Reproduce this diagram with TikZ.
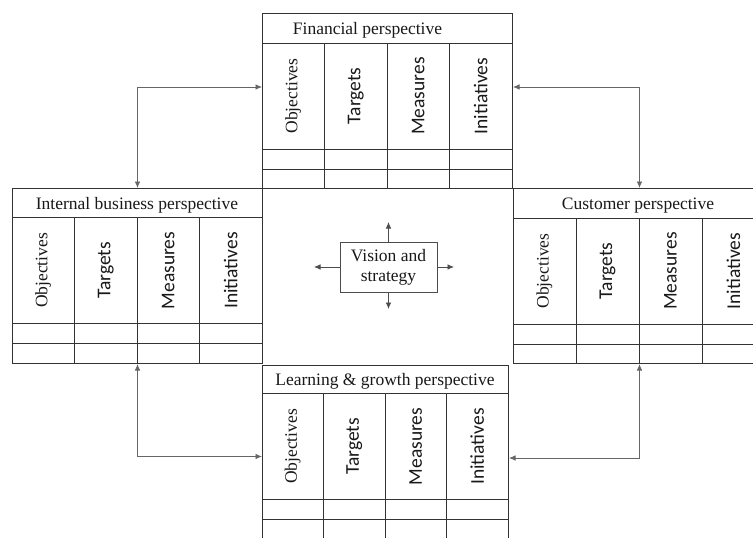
\documentclass[tikz,border=0pt]{standalone}
\usepackage{fontspec}
\setmainfont{Liberation Serif}
\newfontfamily\calibfont{Carlito}
\usetikzlibrary{arrows.meta}

\tikzset{
  panel/.style={draw=black!80, line width=1pt, inner sep=0pt, minimum height=175pt},
  grid/.style={draw=black!80, line width=1pt},
  title/.style={anchor=base, inner sep=0pt, text=black!90, font=\fontsize{17.5}{20}\selectfont},
  serifcol/.style={rotate=90, inner sep=0pt, text=black!90, font=\fontsize{17.5}{20}\selectfont},
  sanscol/.style={rotate=90, inner sep=0pt, text=black!90, font=\calibfont\fontsize{19.5}{22}\selectfont},
  tip/.tip={Latex[length=6.5pt,width=5.5pt]},
  conn/.style={draw=black!60, line width=0.8pt, tip-tip},
  outarrow/.style={draw=black!70, line width=0.8pt, -tip},
  visbox/.style={draw=black!70, line width=0.8pt, minimum width=97pt, minimum height=50pt,
    inner sep=0pt, align=center, text=black!90, font=\fontsize{17.5}{20}\selectfont},
}

% One perspective table: #1 name, #2 left, #3 top, #4 width, #5 header height,
% #6 title, #7 title centre x
\newcommand\bscpanel[7]{%
  \node[panel, minimum width=#4pt, anchor=north west] (#1) at (#2,#3) {};
  \draw[grid] (#2,#3+#5) -- (#2+#4,#3+#5);
  \draw[grid] (#2,#3+#5+106) -- (#2+#4,#3+#5+106);
  \draw[grid] (#2,#3+#5+126) -- (#2+#4,#3+#5+126);
  \foreach \k in {1,2,3}
    \draw[grid] (#2+\k*#4/4,#3+#5) -- (#2+\k*#4/4,#3+175);
  \node[title] (#1-title) at (#7,#3+#5-8.5) {#6};
  \node[serifcol] (#1-obj) at (#2+#4/8,#3+#5+53) {Objectives};
  \node[sanscol] (#1-tar) at (#2+3*#4/8,#3+#5+53) {Targets};
  \node[sanscol] (#1-mea) at (#2+5*#4/8,#3+#5+53) {Measures};
  \node[sanscol] (#1-ini) at (#2+7*#4/8,#3+#5+53) {Initiatives};
}

\begin{document}
\begin{tikzpicture}[x=1pt,y=-1pt]
  \fill[white] (0,0) rectangle (753,538);
  \clip (0,0) rectangle (753,538);

  % the four perspectives
  \bscpanel{fin}{262}{13}{250}{30}{Financial perspective}{367.5}
  \bscpanel{int}{12}{188}{250}{29.5}{Internal business perspective}{137}
  \bscpanel{cust}{513}{188}{252}{30}{Customer perspective}{638}
  \bscpanel{learn}{262}{365}{246}{28.5}{Learning \& growth perspective}{385}

  % vision and strategy in the middle
  \node[visbox] (vis) at (388.5,267) {Vision and\\strategy};
  \coordinate (vn) at (388.5,222);
  \coordinate (vs) at (388.5,309);
  \coordinate (vw) at (314,267);
  \coordinate (ve) at (454,267);
  \draw[outarrow] (vis.north) -- (vn);
  \draw[outarrow] (vis.south) -- (vs);
  \draw[outarrow] (vis.west) -- (vw);
  \draw[outarrow] (vis.east) -- (ve);

  % links between neighbouring perspectives
  \coordinate (tl) at (137,87);
  \coordinate (tr) at (639,87);
  \coordinate (bl) at (137,456.5);
  \coordinate (br) at (639,458);
  \draw[conn] (int.north) |- (fin.west |- tl);
  \draw[conn] (cust.north) |- (fin.east |- tr);
  \draw[conn] (int.south) |- (learn.west |- bl);
  \draw[conn] (cust.south) |- (learn.east |- br);
\end{tikzpicture}
\end{document}
